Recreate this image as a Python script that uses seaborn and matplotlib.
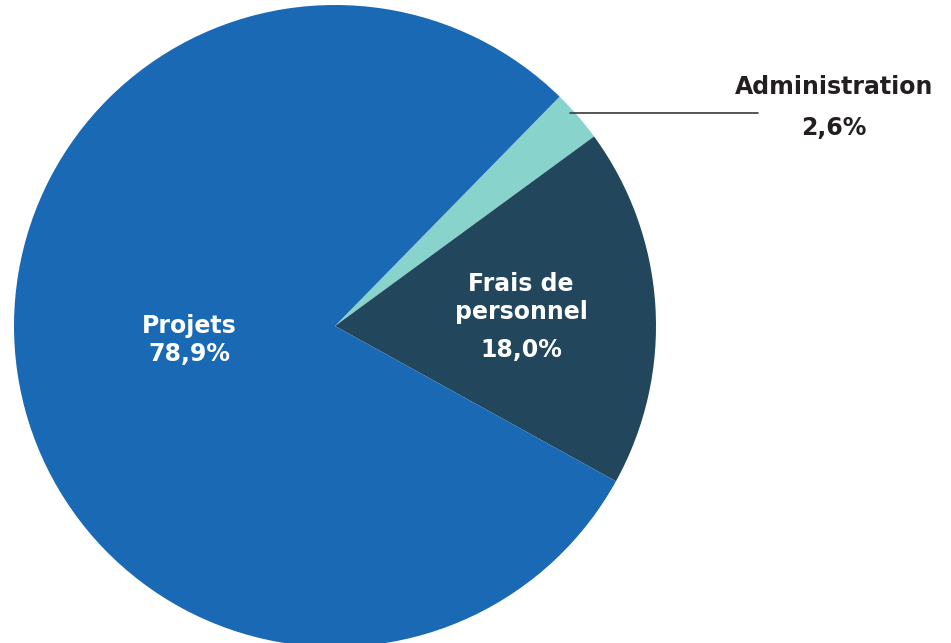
import matplotlib
matplotlib.use("Agg")
import matplotlib.pyplot as plt
import seaborn as sns

sns.set_theme(style="white")
plt.rcParams['font.family'] = ['DejaVu Sans']

# donnees
categories = ["Administration", "Frais de personnel", "Projets"]
valeurs = [2.6, 18.0, 78.9]
etiquettes = ["2,6%", "18,0%", "78,9%"]
couleurs = ["#88D3CB", "#22475D", "#1A69B4"]

W, H = 951, 643
fig = plt.figure(figsize=(W / 100, H / 100), dpi=100)
fig.patch.set_facecolor("white")

# pie centre (335, 326) px, rayon ~321 px
cx, cy, r = 335, 326, 321
ax = fig.add_axes([(cx - r) / W, (H - cy - r) / H, 2 * r / W, 2 * r / H])
ax.pie(valeurs, colors=couleurs, startangle=45.6, counterclock=False,
       radius=1, wedgeprops=dict(linewidth=0))
ax.set_xlim(-1, 1)
ax.set_ylim(-1, 1)
ax.set_aspect("equal")
ax.axis("off")

def px(x, y):
    return x / W, 1 - y / H

fs = 17
# Projets
fig.text(*px(189, 326), "Projets", color="white", fontsize=fs, fontweight="bold",
         ha="center", va="center")
fig.text(*px(189, 354), etiquettes[2], color="white", fontsize=fs, fontweight="bold",
         ha="center", va="center")
# Frais de personnel
fig.text(*px(521, 284), "Frais de", color="white", fontsize=fs, fontweight="bold",
         ha="center", va="center")
fig.text(*px(521, 312), "personnel", color="white", fontsize=fs, fontweight="bold",
         ha="center", va="center")
fig.text(*px(521, 350), etiquettes[1], color="white", fontsize=fs, fontweight="bold",
         ha="center", va="center")
# Administration
fig.text(*px(834, 87), categories[0], color="#231F20", fontsize=fs, fontweight="bold",
         ha="center", va="center")
fig.text(*px(834, 128), etiquettes[0], color="#231F20", fontsize=fs, fontweight="bold",
         ha="center", va="center")
x0, y0 = px(570, 113)
x1, y1 = px(758, 113)
fig.add_artist(plt.Line2D([x0, x1], [y0, y1], color="#3a3a3a", linewidth=1.2,
                          transform=fig.transFigure))

fig.savefig("out.png", dpi=100, facecolor="white")
